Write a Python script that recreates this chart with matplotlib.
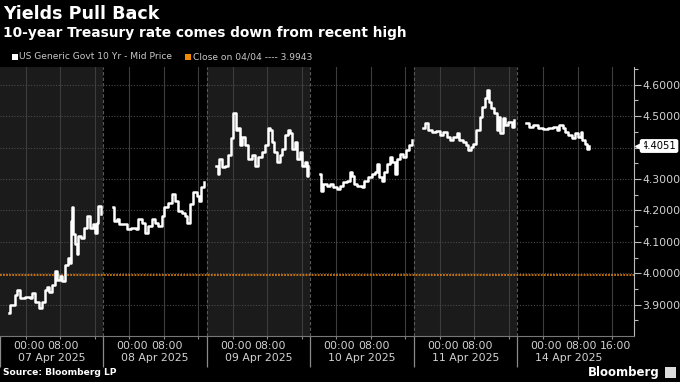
import matplotlib.pyplot as plt
from matplotlib.patches import Rectangle
from matplotlib.ticker import FixedLocator, FuncFormatter

# session labels (each session runs 18:00 the evening before -> 18:00)
days = ['07 Apr 2025', '08 Apr 2025', '09 Apr 2025', '10 Apr 2025', '11 Apr 2025', '14 Apr 2025']

# hours since 18:00 of the previous evening, and mid-price yield
apr07_hours = [2.1, 2.3, 3.5, 4.0, 4.6, 5.8, 7.0, 7.4, 8.1, 9.1, 9.7, 10.4, 10.8, 11.4, 12.0, 12.8, 13.3, 13.9, 14.3,
               15.1, 15.7, 16.2, 16.4, 16.6, 16.9, 17.4, 17.9, 18.2, 18.9, 19.5, 20.2, 20.9, 21.6, 22.0, 22.4, 22.7, 23.4]
apr07_yield = [3.873, 3.90, 3.93, 3.948, 3.923, 3.926, 3.921, 3.937, 3.91, 3.889, 3.91, 3.948, 3.958, 3.942, 3.964,
               4.006, 3.98, 3.99, 3.974, 4.028, 4.049, 4.033, 4.167, 4.21, 4.124, 4.092, 4.06, 4.119, 4.113, 4.145,
               4.183, 4.145, 4.156, 4.129, 4.161, 4.215, 4.188]

apr08_hours = [2.1, 2.4, 3.1, 3.7, 4.6, 5.4, 6.5, 7.5, 8.1, 8.9, 9.6, 10.4, 11.2, 11.9, 12.7, 13.5, 14.1, 15.0, 15.8,
               16.6, 17.4, 18.1, 18.9, 19.4, 20.1, 20.8, 21.6, 22.1, 22.6, 23.3]
apr08_yield = [4.21, 4.167, 4.172, 4.156, 4.156, 4.14, 4.143, 4.14, 4.172, 4.161, 4.129, 4.151, 4.172, 4.161, 4.151,
               4.183, 4.21, 4.225, 4.252, 4.231, 4.199, 4.193, 4.183, 4.161, 4.22, 4.258, 4.247, 4.231, 4.274, 4.29]

apr09_hours = [2.2, 2.5, 2.8, 3.4, 4.2, 4.8, 5.6, 6.1, 6.7, 7.3, 7.7, 8.2, 8.8, 9.6, 10.4, 11.1, 11.9, 12.7, 13.5,
               14.2, 14.6, 15.0, 15.6, 16.2, 16.9, 17.5, 18.1, 18.7, 19.3, 19.8, 20.4, 21.0, 21.6, 22.1, 22.7, 23.1, 23.5]
apr09_yield = [4.343, 4.317, 4.365, 4.338, 4.343, 4.375, 4.429, 4.509, 4.456, 4.461, 4.407, 4.434, 4.407, 4.365,
               4.375, 4.343, 4.37, 4.386, 4.407, 4.461, 4.456, 4.418, 4.386, 4.354, 4.375, 4.397, 4.44, 4.456, 4.445,
               4.397, 4.418, 4.365, 4.386, 4.343, 4.354, 4.311, 4.343]

apr10_hours = [2.2, 2.4, 3.0, 3.8, 4.5, 5.3, 6.1, 6.8, 7.6, 8.4, 9.2, 9.6, 10.2, 10.9, 11.9, 12.5, 13.4, 14.2, 15.0,
               15.4, 15.9, 16.5, 17.1, 17.7, 18.4, 19.0, 19.6, 20.0, 20.8, 21.5, 22.1, 22.8, 23.5]
apr10_yield = [4.317, 4.263, 4.285, 4.279, 4.285, 4.274, 4.269, 4.279, 4.29, 4.295, 4.322, 4.311, 4.285, 4.279,
               4.274, 4.295, 4.306, 4.317, 4.322, 4.349, 4.306, 4.295, 4.322, 4.349, 4.37, 4.354, 4.317, 4.365,
               4.381, 4.37, 4.391, 4.407, 4.423]

apr11_hours = [2.2, 2.6, 3.3, 4.1, 5.1, 6.0, 6.8, 7.6, 8.4, 9.1, 9.9, 10.5, 11.3, 12.1, 12.6, 13.2, 13.8, 14.5, 15.3,
               15.9, 16.5, 17.0, 17.5, 18.0, 18.6, 19.2, 19.6, 19.9, 20.6, 21.1, 21.9, 22.7, 23.2]
apr11_yield = [4.461, 4.479, 4.456, 4.45, 4.453, 4.44, 4.45, 4.434, 4.423, 4.434, 4.445, 4.423, 4.418, 4.407, 4.391,
               4.402, 4.413, 4.456, 4.498, 4.53, 4.557, 4.584, 4.546, 4.525, 4.509, 4.456, 4.498, 4.445, 4.493,
               4.472, 4.482, 4.466, 4.488]

apr14_hours = [2.1, 2.7, 3.7, 4.8, 6.0, 7.1, 8.3, 9.1, 9.7, 10.5, 11.0, 11.8, 12.6, 13.3, 14.1, 14.7, 15.1, 15.7,
               16.1, 16.6]
apr14_yield = [4.477, 4.466, 4.472, 4.461, 4.458, 4.461, 4.466, 4.456, 4.472, 4.461, 4.45, 4.44, 4.429, 4.445,
               4.434, 4.45, 4.423, 4.413, 4.397, 4.4051]

session_hours = [apr07_hours, apr08_hours, apr09_hours, apr10_hours, apr11_hours, apr14_hours]
session_yield = [apr07_yield, apr08_yield, apr09_yield, apr10_yield, apr11_yield, apr14_yield]

prev_close = 3.9943
last_value = 4.4051
y_ticks = [3.9, 4.0, 4.1, 4.2, 4.3, 4.4, 4.5, 4.6]

BG = '#000000'
PANEL = '#1b1b1b'
GRID = '#3d3d3d'
TXT = '#d2d2d2'

fig = plt.figure(figsize=(6.8, 3.82), dpi=100, facecolor=BG)
ax = fig.add_axes([0.0, 0.12, 0.932, 0.705], facecolor=BG)

x_end = 24 * 6 + 3
ax.set_xlim(0, x_end)
ax.set_ylim(3.80, 4.657)

# alternating session backgrounds + boundaries
for i in range(6):
    right = 24 * (i + 1) if i < 5 else x_end
    ax.axvspan(24 * i, right, color=PANEL if i % 2 == 0 else BG, lw=0, zorder=0)
    if i > 0:
        ax.axvline(24 * i, color='#5a5a5a', lw=0.8, ls=(0, (3, 2)), zorder=1)
    for h in (6, 14, 22):
        ax.axvline(24 * i + h, color=GRID, lw=0.8, zorder=1)

for yt in y_ticks:
    ax.axhline(yt, color='#4a4a4a', lw=0.8, ls=(0, (1, 1.5)), zorder=1)

ax.axhline(prev_close, color='#f08a10', lw=1.1, ls=(0, (1.2, 0.8)), zorder=2)

# the yield series, one piece per session
for i in range(6):
    xs = [24 * i + h for h in session_hours[i]]
    ax.plot(xs, session_yield[i], color='white', lw=1.8, drawstyle='steps-post', zorder=3)

# y axis on the right
ax.yaxis.tick_right()
ax.set_yticks(y_ticks)
ax.yaxis.set_major_formatter(FuncFormatter(lambda v, p: '' if abs(v - 4.4) < 1e-6 else f'{v:.4f}'))
ax.yaxis.set_minor_locator(FixedLocator([3.85, 3.95, 4.05, 4.15, 4.25, 4.35, 4.45, 4.55, 4.65]))
ax.tick_params(axis='y', which='major', colors='#bbbbbb', labelcolor=TXT, labelsize=7.8, length=5, width=0.8, pad=1)
ax.tick_params(axis='y', which='minor', colors='#bbbbbb', length=3, width=0.8)

for s in ('top', 'left'):
    ax.spines[s].set_visible(False)
ax.spines['right'].set_color('#bbbbbb')
ax.spines['bottom'].set_color('#777777')

# x axis: long separators between sessions, short ticks at gridlines
ax.set_xticks([24 * i for i in range(6)])
ax.set_xticklabels([])
ax.xaxis.set_minor_locator(FixedLocator([24 * i + h for i in range(6) for h in (6, 14, 22)]))
ax.tick_params(axis='x', which='major', colors='#8a8a8a', length=22, width=0.9)
ax.tick_params(axis='x', which='minor', colors='#8a8a8a', length=2.5, width=0.8)

xt = ax.get_xaxis_transform()
for i, d in enumerate(days):
    hours = (6, 14, 22) if i == 5 else (6, 14)
    for h in hours:
        ax.text(24 * i + h + 0.7, -0.037, f'{(h - 6):02d}:00', transform=xt, color=TXT,
                fontsize=7.8, ha='center', va='center')
    ax.text(24 * i + 12, -0.082, d, transform=xt, color=TXT, fontsize=7.8, ha='center', va='center')

# last value tag
yt_tr = ax.get_yaxis_transform()
ax.text(1.0125, last_value, f'{last_value:.4f}', transform=yt_tr, color='black', fontsize=7.2,
        ha='left', va='center', zorder=6, clip_on=False,
        bbox=dict(boxstyle='round,pad=0.12,rounding_size=0.15', fc='white', ec='white'))
ax.plot([1.008], [last_value], marker='<', color='white', markersize=5.5, transform=yt_tr,
        clip_on=False, zorder=6)

# header
fig.text(0.004, 0.963, 'Yields Pull Back', color='white', fontsize=12.6, fontweight='bold',
         ha='left', va='center')
fig.text(0.004, 0.913, '10-year Treasury rate comes down from recent high', color='white',
         fontsize=9.9, fontweight='bold', ha='left', va='center')

# legend row
fig.patches.append(Rectangle((0.017, 0.843), 0.009, 0.016, transform=fig.transFigure,
                             facecolor='white', edgecolor='none'))
fig.text(0.028, 0.851, 'US Generic Govt 10 Yr - Mid Price', color='#c8c8c8', fontsize=6.6,
         ha='left', va='center')
fig.patches.append(Rectangle((0.272, 0.843), 0.009, 0.016, transform=fig.transFigure,
                             facecolor='#f08a00', edgecolor='none'))
fig.text(0.284, 0.851, 'Close on 04/04 ---- 3.9943', color='#c8c8c8', fontsize=6.6,
         ha='left', va='center')

# footer
fig.text(0.004, 0.024, 'Source: Bloomberg LP', color='white', fontsize=6.6, fontweight='bold',
         ha='left', va='center')
fig.text(0.970, 0.026, 'Bloomberg', color='white', fontsize=8.5, fontweight='bold',
         ha='right', va='center')
fig.patches.append(Rectangle((0.978, 0.011), 0.016, 0.028, transform=fig.transFigure,
                             facecolor='#dddddd', edgecolor='none'))

fig.savefig('out.png', dpi=100, facecolor=BG)
